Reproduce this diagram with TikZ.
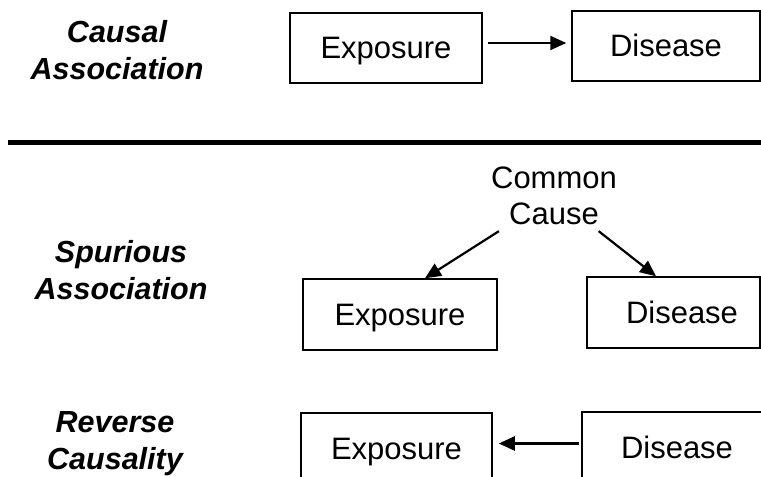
\documentclass[tikz,border=0pt]{standalone}
\usepackage{fontspec}
\setmainfont{Liberation Sans}
\usetikzlibrary{arrows.meta,calc}
\begin{document}
\begin{tikzpicture}[x=1bp,y=-1bp,
  box/.style={draw,line width=1.5bp,inner sep=0pt,minimum height=70bp,
    font=\fontsize{31bp}{37bp}\selectfont,text height=22bp,text depth=0pt},
  rowlabel/.style={align=center,inner sep=0pt,
    font=\fontsize{30.5bp}{37bp}\selectfont\bfseries\itshape},
  link/.style={line width=2.2bp,-{Triangle[length=16bp,width=14bp]}}]
\useasboundingbox (0,0) rectangle (761,477);

% row labels
\node[rowlabel] (lab1) at (117,50.5) {Causal\\Association};
\node[rowlabel] (lab2) at (121,270) {Spurious\\Association};
\node[rowlabel] (lab3) at (115,444) {Reverse\\Causality};

% causal association
\node[box,minimum width=192bp] (ex1) at (386,48) {Exposure};
\node[box,minimum width=188bp] (di1) at (666,46) {Disease};
\coordinate (t1) at ([yshift=5bp]ex1.east);
\draw[link,shorten <=5bp,shorten >=5bp] (t1) -- (t1 -| di1.west);

% separator
\draw[line width=5bp] (8,142.5) -- (761,142.5);

% spurious association
\node[align=center,inner sep=6bp,font=\fontsize{31bp}{36bp}\selectfont] (cc) at (554,196) {Common\\Cause};
\node[box,minimum width=194bp,minimum height=71bp] (ex2) at (400,314.5) {Exposure};
\node[box,minimum width=173bp,minimum height=71bp] (di2) at (673.5,312.5) {\hspace*{17bp}Disease};
\draw[link] (cc) -- ([xshift=25bp]ex2.north);
\draw[link] (cc) -- ([xshift=-17.5bp]di2.north);

% reverse causality
\node[box,minimum width=191bp,minimum height=71bp] (ex3) at (396.5,448.5) {Exposure};
\node[box,minimum width=190bp,minimum height=71bp] (di3) at (677,447.5) {Disease};
\coordinate (t3) at ([yshift=4bp]di3.west);
\draw[link,shorten <=2bp,shorten >=6bp] (t3) -- (t3 -| ex3.east);
\end{tikzpicture}
\end{document}
